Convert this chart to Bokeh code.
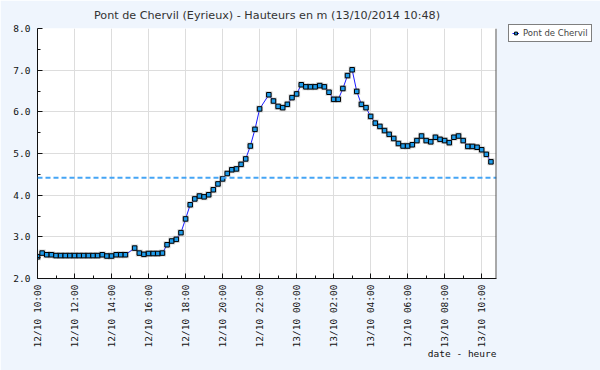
import math
import pandas as pd
from bokeh.plotting import figure
from bokeh.models import (FixedTicker, Span, Legend, LegendItem, Range1d,
                          PrintfTickFormatter, ColumnDataSource, Title)
from bokeh.embed import file_html
from bokeh.resources import INLINE

title_text = "Pont de Chervil (Eyrieux) - Hauteurs en m (13/10/2014 10:48)"
series_name = "Pont de Chervil"
x_axis_title = "date - heure"

times = [
    "12/10 10:00", "12/10 10:15", "12/10 10:30", "12/10 10:45",
    "12/10 11:00", "12/10 11:15", "12/10 11:30", "12/10 11:45",
    "12/10 12:00", "12/10 12:15", "12/10 12:30", "12/10 12:45",
    "12/10 13:00", "12/10 13:15", "12/10 13:30", "12/10 13:45",
    "12/10 14:00", "12/10 14:15", "12/10 14:30", "12/10 14:45",
    "12/10 15:15", "12/10 15:30", "12/10 15:45",
    "12/10 16:00", "12/10 16:15", "12/10 16:30", "12/10 16:45",
    "12/10 17:00", "12/10 17:15", "12/10 17:30", "12/10 17:45",
    "12/10 18:00", "12/10 18:15", "12/10 18:30", "12/10 18:45",
    "12/10 19:00", "12/10 19:15", "12/10 19:30", "12/10 19:45",
    "12/10 20:00", "12/10 20:15", "12/10 20:30", "12/10 20:45",
    "12/10 21:00", "12/10 21:15", "12/10 21:30", "12/10 21:45",
    "12/10 22:00", "12/10 22:30", "12/10 22:45",
    "12/10 23:00", "12/10 23:15", "12/10 23:30", "12/10 23:45",
    "13/10 00:00", "13/10 00:15", "13/10 00:30", "13/10 00:45",
    "13/10 01:00", "13/10 01:15", "13/10 01:30", "13/10 01:45",
    "13/10 02:00", "13/10 02:15", "13/10 02:30", "13/10 02:45",
    "13/10 03:00", "13/10 03:15", "13/10 03:30", "13/10 03:45",
    "13/10 04:00", "13/10 04:15", "13/10 04:30", "13/10 04:45",
    "13/10 05:00", "13/10 05:15", "13/10 05:30", "13/10 05:45",
    "13/10 06:00", "13/10 06:15", "13/10 06:30", "13/10 06:45",
    "13/10 07:00", "13/10 07:15", "13/10 07:30", "13/10 07:45",
    "13/10 08:00", "13/10 08:15", "13/10 08:30", "13/10 08:45",
    "13/10 09:00", "13/10 09:15", "13/10 09:30", "13/10 09:45",
    "13/10 10:00", "13/10 10:15", "13/10 10:30",
]

heights = [
    2.52, 2.61, 2.57, 2.57,
    2.55, 2.55, 2.55, 2.55,
    2.55, 2.55, 2.55, 2.55,
    2.55, 2.55, 2.57, 2.54,
    2.54, 2.57, 2.57, 2.57,
    2.73, 2.61, 2.58,
    2.60, 2.60, 2.60, 2.61,
    2.81, 2.90, 2.94, 3.10,
    3.43, 3.77, 3.91, 3.98,
    3.96, 4.01, 4.13, 4.27,
    4.39, 4.52, 4.61, 4.63,
    4.74, 4.87, 5.18, 5.58,
    6.07, 6.41, 6.26,
    6.13, 6.10, 6.18, 6.34,
    6.43, 6.65, 6.60, 6.60,
    6.60, 6.63, 6.60, 6.47,
    6.30, 6.30, 6.56, 6.87,
    7.01, 6.49, 6.18, 6.10,
    5.89, 5.73, 5.65, 5.55,
    5.46, 5.36, 5.24, 5.18,
    5.18, 5.21, 5.31, 5.42,
    5.31, 5.28, 5.39, 5.34,
    5.31, 5.26, 5.39, 5.42,
    5.31, 5.17, 5.17, 5.15,
    5.09, 4.98, 4.80,
]

x_tick_labels = [
    "12/10 10:00", "12/10 12:00", "12/10 14:00", "12/10 16:00",
    "12/10 18:00", "12/10 20:00", "12/10 22:00", "13/10 00:00",
    "13/10 02:00", "13/10 04:00", "13/10 06:00", "13/10 08:00",
    "13/10 10:00",
]
x_start_label = "12/10 10:00"
x_end_label = "13/10 10:48"
y_ticks = [2, 3, 4, 5, 6, 7, 8]
alert_level = 4.42


def to_ms(s):
    d, hm = s.split()
    ts = pd.Timestamp(f"2014-{d[3:5]}-{d[0:2]} {hm}")
    return ts.value // 10**6


xs = [to_ms(t) for t in times]
xt = [to_ms(t) for t in x_tick_labels]
x_minor = [(a + b) // 2 for a, b in zip(xt[:-1], xt[1:])] + [xt[-1] + (xt[1] - xt[0]) // 2]
y_minor = [v + 0.5 for v in y_ticks[:-1]]

src = ColumnDataSource(dict(x=xs, y=heights))

x0, x1 = to_ms(x_start_label), to_ms(x_end_label)

p = figure(frame_width=459, frame_height=250, output_backend="svg",
           toolbar_location=None,
           x_range=Range1d(x0, x1), y_range=Range1d(2.0, 8.0),
           min_border_left=37, min_border_right=104, min_border_top=28,
           min_border_bottom=92,
           background_fill_color="white", border_fill_color="#EFF5FD",
           outline_line_color=None)

p.title.text = title_text
p.title.align = "center"
p.title.text_font = "DejaVu Sans"
p.title.text_font_size = "11.2px"
p.title.text_font_style = "normal"
p.title.text_color = "#333333"
p.title.standoff = 13

# axes
p.xaxis.ticker = FixedTicker(ticks=xt, minor_ticks=x_minor)
p.xaxis.major_label_overrides = {int(v): lab for v, lab in zip(xt, x_tick_labels)}
p.xaxis.major_label_orientation = math.pi / 2
p.yaxis.ticker = FixedTicker(ticks=y_ticks, minor_ticks=y_minor)
p.yaxis.formatter = PrintfTickFormatter(format="%.1f")

for ax in (p.xaxis, p.yaxis):
    ax.axis_line_color = "#111111"
    ax.axis_line_width = 1
    ax.major_tick_in = 5
    ax.major_tick_out = 0
    ax.minor_tick_in = 3
    ax.minor_tick_out = 0
    ax.major_tick_line_color = "#111111"
    ax.minor_tick_line_color = "#111111"
    ax.major_label_text_font = "DejaVu Sans Mono"
    ax.major_label_text_font_size = "9.5px"
    ax.major_label_text_color = "#111111"
p.yaxis.major_label_standoff = 7
p.xaxis.major_label_standoff = 6

p.add_layout(Title(text=x_axis_title, align="right", text_font="DejaVu Sans Mono",
                   text_font_size="9.5px", text_font_style="normal",
                   text_color="#111111", standoff=-10, offset=0), "below")

p.xgrid.ticker = FixedTicker(ticks=xt)
p.ygrid.ticker = FixedTicker(ticks=y_ticks)
p.xgrid.grid_line_color = "#DDDDDD"
p.ygrid.grid_line_color = "#DDDDDD"

p.add_layout(Span(location=alert_level, dimension="width", line_color="#45A5F5",
                  line_dash="5 3", line_width=2))
p.add_layout(Span(location=x1, dimension="height", line_color="#555555",
                  line_width=2))

line_r = p.line("x", "y", source=src, line_color="#1A1AFF", line_width=1)
p.scatter("x", "y", source=src, marker="square", size=7, fill_color="#888888",
          fill_alpha=0.35, line_color=None)
sq_r = p.scatter("x", "y", source=src, marker="square", size=4.5,
                 fill_color="#1E9BEA", line_color="black", line_width=1)

legend = Legend(items=[LegendItem(label=series_name, renderers=[line_r, sq_r])],
                location=(12, 236))
legend.label_text_font = "DejaVu Sans"
legend.label_text_font_size = "8.5px"
legend.label_height = 8
legend.glyph_width = 7
legend.glyph_height = 8
legend.label_standoff = 4
legend.padding = 3
legend.spacing = 0
legend.margin = 0
legend.border_line_color = "black"
legend.border_line_width = 1
legend.background_fill_color = "white"
legend.background_fill_alpha = 1
p.add_layout(legend, "right")

open("out.html", "w").write(file_html(p, INLINE))
